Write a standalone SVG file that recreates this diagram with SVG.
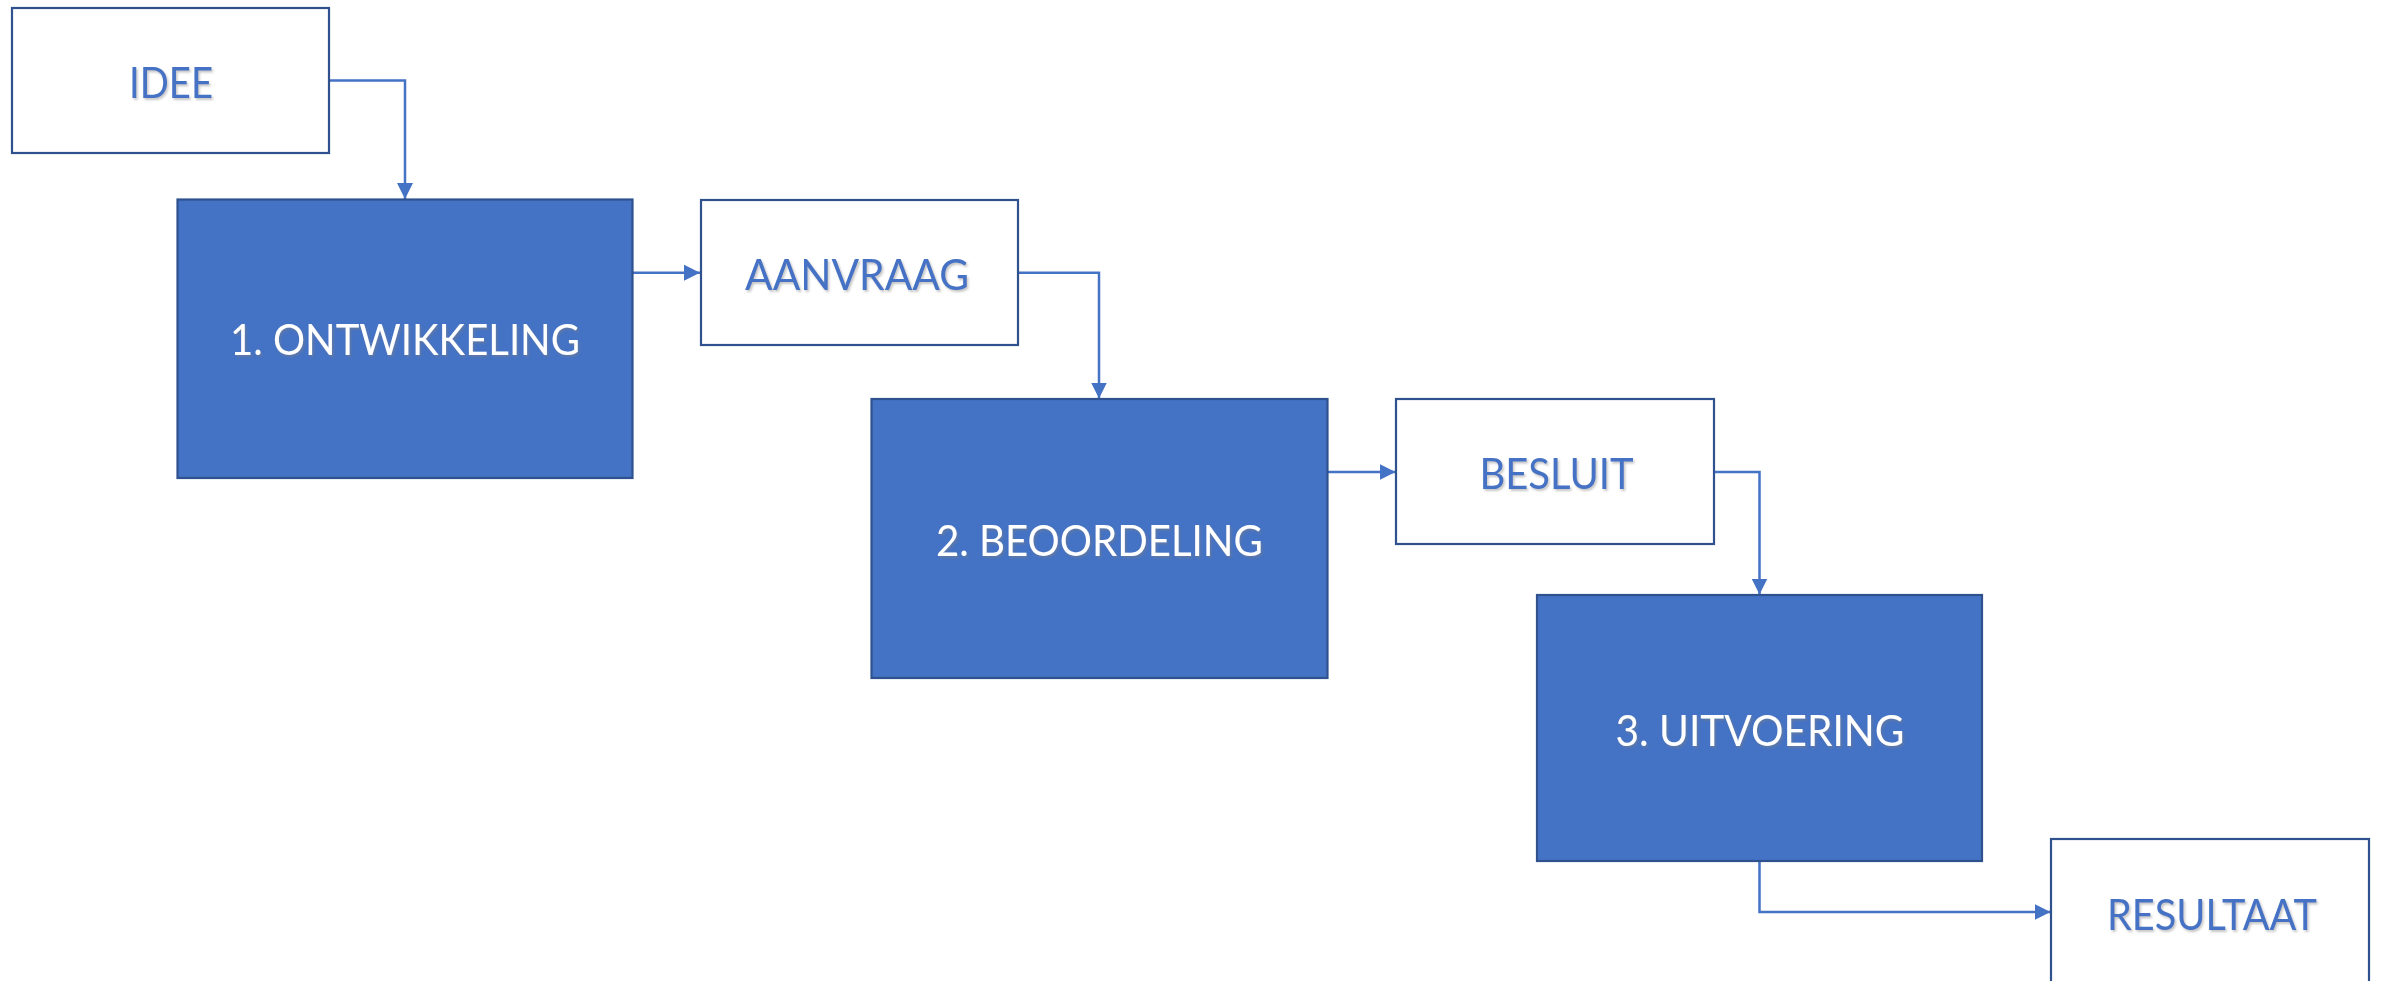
<svg xmlns="http://www.w3.org/2000/svg" width="2384" height="981" viewBox="0 0 2384 981">
  <style>
    .white { fill: #FFFFFF; stroke: #2F528F; stroke-width: 2.2; }
    .blue { fill: #4472C4; stroke: #2F528F; stroke-width: 2.2; }
    .lbl { font-family: Lato, "Liberation Sans", "DejaVu Sans", sans-serif; font-size: 42px; text-anchor: middle; filter: url(#shadow); }
    .lbl-blue { fill: #4472C4; }
    .lbl-white { fill: #FFFFFF; }
    .conn { fill: none; stroke: #4472C4; stroke-width: 2.5; marker-end: url(#arrow); }
  </style>
  <defs>
    <marker id="arrow" markerUnits="userSpaceOnUse" markerWidth="16" markerHeight="16" viewBox="0 0 15 15" refX="15" refY="7.5" orient="auto">
      <path d="M0,0 L15,7.5 L0,15 Z" fill="#4472C4"/>
    </marker>
    <filter id="shadow" x="-10%" y="-20%" width="120%" height="150%">
      <feDropShadow dx="1.5" dy="2" stdDeviation="1" flood-color="#7F7F7F" flood-opacity="0.45"/>
    </filter>
  </defs>
  <rect width="2384" height="981" fill="#FFFFFF"/>

  <g id="connectors">
    <path class="conn" d="M329,80.5 H405 V199"/>
    <path class="conn" d="M632.5,272.7 H700"/>
    <path class="conn" d="M1018,272.7 H1099 V398.5"/>
    <path class="conn" d="M1327.5,472 H1395.5"/>
    <path class="conn" d="M1714,472 H1759.5 V594.5"/>
    <path class="conn" d="M1759.5,861 V912 H2050.5"/>
  </g>

  <g id="idee">
    <rect class="white" x="12" y="8" width="317" height="145"/>
    <text class="lbl lbl-blue" x="171" y="98" textLength="84" lengthAdjust="spacingAndGlyphs">IDEE</text>
  </g>
  <g id="ontwikkeling">
    <rect class="blue" x="177.5" y="199.5" width="455" height="278.5"/>
    <text class="lbl lbl-white" x="405" y="355" textLength="350" lengthAdjust="spacingAndGlyphs">1. ONTWIKKELING</text>
  </g>
  <g id="aanvraag">
    <rect class="white" x="701" y="200" width="317" height="145"/>
    <text class="lbl lbl-blue" x="857" y="290" textLength="224" lengthAdjust="spacingAndGlyphs">AANVRAAG</text>
  </g>
  <g id="beoordeling">
    <rect class="blue" x="871.5" y="399" width="456" height="279"/>
    <text class="lbl lbl-white" x="1099.4" y="556" textLength="327" lengthAdjust="spacingAndGlyphs">2. BEOORDELING</text>
  </g>
  <g id="besluit">
    <rect class="white" x="1396" y="399" width="318" height="145"/>
    <text class="lbl lbl-blue" x="1556.5" y="489" textLength="154" lengthAdjust="spacingAndGlyphs">BESLUIT</text>
  </g>
  <g id="uitvoering">
    <rect class="blue" x="1537" y="595" width="445" height="266"/>
    <text class="lbl lbl-white" x="1760" y="745.5" textLength="289" lengthAdjust="spacingAndGlyphs">3. UITVOERING</text>
  </g>
  <g id="resultaat">
    <rect class="white" x="2051" y="839" width="318" height="150"/>
    <text class="lbl lbl-blue" x="2212" y="930" textLength="210" lengthAdjust="spacingAndGlyphs">RESULTAAT</text>
  </g>
</svg>
